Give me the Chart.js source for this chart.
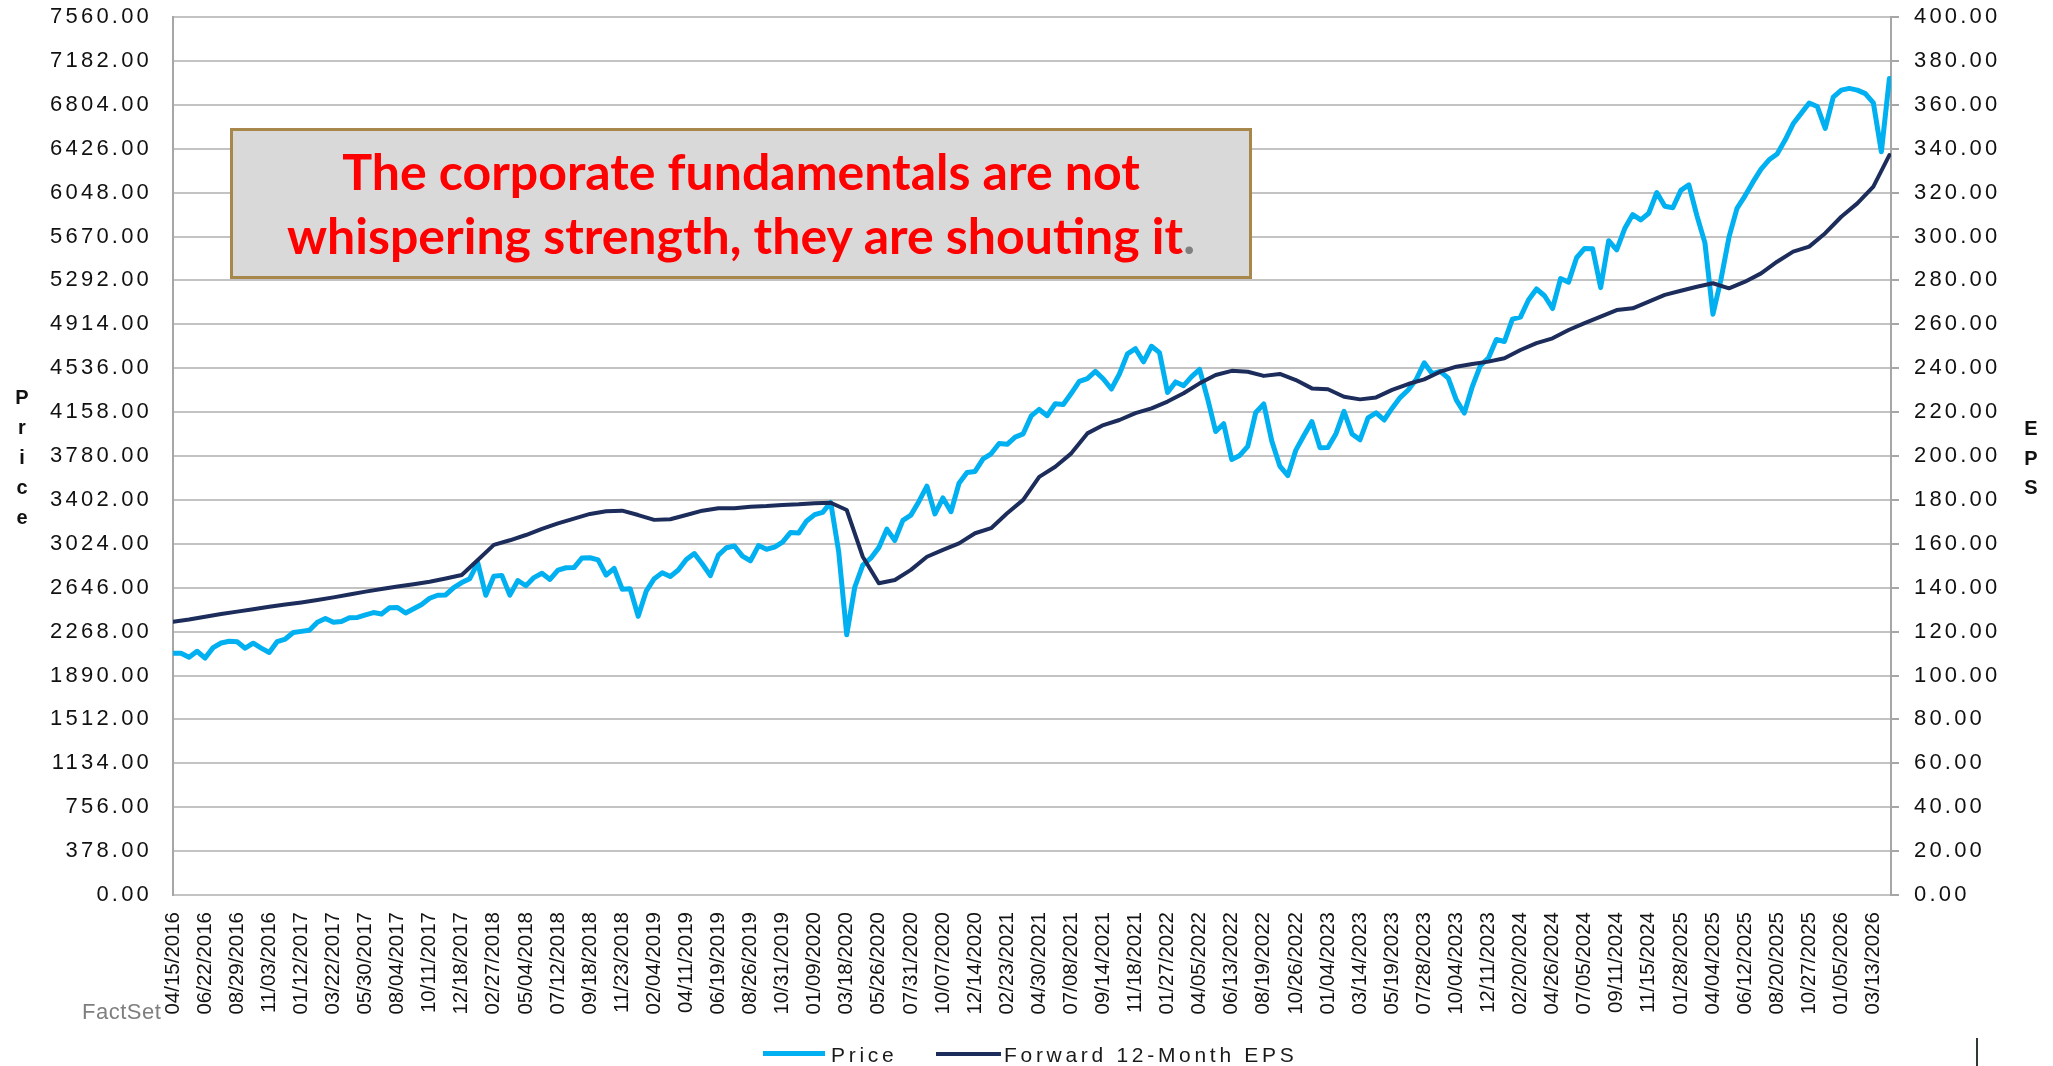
<!DOCTYPE html>
<html>
<head>
<meta charset="utf-8">
<script src="https://cdn.jsdelivr.net/npm/chart.js@4.4.1/dist/chart.umd.min.js"></script>
<style>
html,body{margin:0;padding:0;background:#fff;}
#wrap{position:relative;width:2053px;height:1066px;overflow:hidden;background:#fff;}
#c{position:absolute;left:0;top:0;}
.note{position:absolute;left:230px;top:128px;width:1022px;height:151px;box-sizing:border-box;border:3px solid #a8884a;background:#d9d9d9;
  font-family:'Lato',sans-serif;font-weight:700;font-size:50px;line-height:64px;color:#ff0000;text-align:center;padding-top:8px;}
.note .dot{color:#808080;}
.ytitle{position:absolute;width:24px;text-align:center;font-family:'Liberation Sans',Arial,sans-serif;font-weight:700;font-size:20px;color:#111;}
.factset{position:absolute;left:82px;top:1001px;font-family:'Liberation Sans',Arial,sans-serif;font-size:22px;line-height:22px;color:#7f7f7f;letter-spacing:0.5px;}
.lgline{position:absolute;height:5px;}
.lgtext{position:absolute;top:1044px;font-family:'Liberation Sans',Arial,sans-serif;font-size:21px;line-height:21px;color:#1a1a1a;letter-spacing:3.7px;white-space:nowrap;}
.mark{position:absolute;left:1976px;top:1038px;width:2px;height:28px;background:#2d3b33;}
</style>
</head>
<body>
<div id="wrap">
  <canvas id="c" width="2053" height="1066"></canvas>
  <div class="note">The corporate fundamentals are not<br>whispering strength, they are shouting it<span class="dot">.</span></div>
  <div class="ytitle" style="left:10px;top:382px;line-height:30px;">P<br>r<br>i<br>c<br>e</div>
  <div class="ytitle" style="left:2019px;top:414px;line-height:29.5px;">E<br>P<br>S</div>
  <div class="factset">FactSet</div>
  <div class="lgline" style="left:763px;top:1051px;width:62px;background:#00b0f0;"></div>
  <div class="lgtext" style="left:831px;">Price</div>
  <div class="lgline" style="left:936px;top:1052px;width:65px;height:4px;background:#1c2c5b;"></div>
  <div class="lgtext" style="left:1004px;">Forward 12-Month EPS</div>
  <div class="mark"></div>
</div>
<script>
// ---- data ----
const tickLabels = [
  '04/15/2016','06/22/2016','08/29/2016','11/03/2016','01/12/2017','03/22/2017','05/30/2017','08/04/2017',
  '10/11/2017','12/18/2017','02/27/2018','05/04/2018','07/12/2018','09/18/2018','11/23/2018','02/04/2019',
  '04/11/2019','06/19/2019','08/26/2019','10/31/2019','01/09/2020','03/18/2020','05/26/2020','07/31/2020',
  '10/07/2020','12/14/2020','02/23/2021','04/30/2021','07/08/2021','09/14/2021','11/18/2021','01/27/2022',
  '04/05/2022','06/13/2022','08/19/2022','10/26/2022','01/04/2023','03/14/2023','05/19/2023','07/28/2023',
  '10/04/2023','12/11/2023','02/20/2024','04/26/2024','07/05/2024','09/11/2024','11/15/2024','01/28/2025',
  '04/04/2025','06/12/2025','08/20/2025','10/27/2025','01/05/2026','03/13/2026'
];

// position step between samples, in units of one date label
const priceStep = 0.25;
const priceValues = [
  2081,2081,2047,2099, 2040,2130,2170,2185, 2180,2125,2168,2126, 2088,2182,2204,2260,
  2270,2280,2349,2380, 2348,2355,2388,2390, 2412,2432,2420,2473, 2476,2428,2465,2502,
  2555,2581,2584,2647, 2690,2724,2860,2581, 2744,2752,2582,2708, 2663,2733,2770,2717,
  2798,2818,2819,2902, 2904,2885,2755,2813, 2633,2637,2400,2616, 2724,2775,2743,2798,
  2888,2940,2850,2750, 2926,2990,3005,2918, 2878,3009,2977,2995, 3038,3122,3117,3221,
  3275,3295,3380,2954, 2240,2650,2840,2900, 2991,3150,3053,3226, 3271,3389,3520,3281,
  3419,3300,3545,3638, 3647,3756,3799,3887, 3881,3943,3971,4125, 4181,4127,4230,4224,
  4320,4422,4447,4509, 4443,4357,4486,4660, 4704,4591,4725,4670, 4327,4418,4386,4463,
  4525,4272,3991,4058, 3750,3785,3863,4155, 4228,3908,3693,3612, 3831,3957,4076,3852,
  3853,3972,4164,3970, 3920,4109,4151,4090, 4192,4283,4348,4439, 4582,4489,4508,4450,
  4263,4150,4378,4559, 4622,4783,4766,4958, 4976,5123,5218,5160, 5050,5308,5277,5487,
  5567,5564,5230,5634, 5554,5738,5859,5813, 5870,6049,5930,5918, 6067,6115,5850,5615,
  5000,5300,5664,5912, 6020,6140,6250,6330, 6380,6500,6640,6730, 6820,6790,6600,6870,
  6930,6945,6930,6900, 6820,6400,7030
];

const epsStep = 0.5;
const epsValues = [
  124.5,125.5, 126.8,128.0, 129.1,130.2, 131.3,132.3, 133.3,134.4, 135.6,136.9, 138.2,139.4,
  140.5,141.6, 142.7,144.2, 145.8,152.6, 159.5,161.6, 164.0,166.8, 169.3,171.5, 173.6,174.8,
  175.1,173.1, 170.9,171.2, 173.1,175.1, 176.2,176.2, 176.9,177.2, 177.7,178.0, 178.5,178.7,
  175.4,154.1, 142.0,143.5, 148.1,154.1, 157.2,160.2, 164.8,167.1, 173.9,180.0, 190.5,195.1,
  201.2,210.3, 214.1,216.4, 219.5,221.7, 224.8,228.6, 233.1,236.9, 238.8,238.4, 236.5,237.4,
  234.6,230.8, 230.4,227.0, 225.8,226.7, 230.1,232.8, 234.9,238.4, 240.7,241.9, 243.0,244.5,
  248.3,251.4, 253.6,257.4, 260.5,263.5, 266.5,267.3, 270.3,273.4, 275.3,277.1, 278.7,276.4,
  279.4,283.2, 288.5,293.1, 295.4,301.5, 309.0,315.1, 322.7,337.1
];

const priceAxisTicks = [0,378,756,1134,1512,1890,2268,2646,3024,3402,3780,4158,4536,4914,5292,5670,6048,6426,6804,7182,7560];
const epsAxisTicks = [0,20,40,60,80,100,120,140,160,180,200,220,240,260,280,300,320,340,360,380,400];

// ---- chart ----
const axisFont = {family:"'Liberation Sans', Arial, sans-serif", size:22};
const spacingPlugin = {
  id:'spacing',
  beforeDraw(chart){ chart.ctx.letterSpacing = '3.2px'; },
  afterDatasetsDraw(chart){ chart.ctx.letterSpacing = '0px'; }
};
function fitY(width){
  return s => { s.width = width; s.paddingTop = 0; s.paddingBottom = 0; };
}

new Chart(document.getElementById('c'), {
  type:'line',
  data:{
    datasets:[
      {label:'Price', yAxisID:'y', order:1,
       data: priceValues.map((v,i)=>({x:i*priceStep, y:v})),
       borderColor:'#00b0f0', backgroundColor:'#00b0f0', borderWidth:5, pointRadius:0, tension:0,
       borderJoinStyle:'round', borderCapStyle:'round'},
      {label:'Forward 12-Month EPS', yAxisID:'y1', order:0,
       data: epsValues.map((v,i)=>({x:i*epsStep, y:v})),
       borderColor:'#1c2c5b', backgroundColor:'#1c2c5b', borderWidth:4, pointRadius:0, tension:0,
       borderJoinStyle:'round', borderCapStyle:'round'}
    ]
  },
  options:{
    responsive:false, animation:false, devicePixelRatio:1,
    layout:{padding:{top:17,left:0,right:0,bottom:0}},
    plugins:{legend:{display:false}, tooltip:{enabled:false}},
    scales:{
      x:{type:'linear', min:0, max:53.55,
         grid:{display:false, drawTicks:false}, border:{display:false},
         afterBuildTicks:s=>{ s.ticks = tickLabels.map((_,i)=>({value:i})); },
         afterFit:s=>{ s.height = 171; s.paddingLeft = 0; s.paddingRight = 0; },
         ticks:{z:1, autoSkip:false, minRotation:90, maxRotation:90, padding:17,
                font:{family:"'Liberation Sans', Arial, sans-serif", size:20.5}, color:'#111',
                callback:(v)=> tickLabels[v] !== undefined ? tickLabels[v] : ''}
      },
      y:{position:'left', min:0, max:7560,
         afterBuildTicks:s=>{ s.ticks = priceAxisTicks.map(v=>({value:v})); },
         afterFit:fitY(173),
         grid:{color:'#c3c3c3', lineWidth:2, drawTicks:false},
         border:{display:true, color:'#a6a6a6', width:2},
         ticks:{padding:21, font:axisFont, color:'#111', callback:v=>Number(v).toFixed(2)}
      },
      y1:{position:'right', min:0, max:400,
         afterBuildTicks:s=>{ s.ticks = epsAxisTicks.map(v=>({value:v})); },
         afterFit:fitY(162),
         grid:{drawOnChartArea:false, drawTicks:true, tickLength:8, color:'#a6a6a6', lineWidth:2},
         border:{display:true, color:'#a6a6a6', width:2},
         ticks:{padding:15, font:axisFont, color:'#111', callback:v=>Number(v).toFixed(2)}
      }
    }
  },
  plugins:[spacingPlugin]
});
</script>
</body>
</html>
